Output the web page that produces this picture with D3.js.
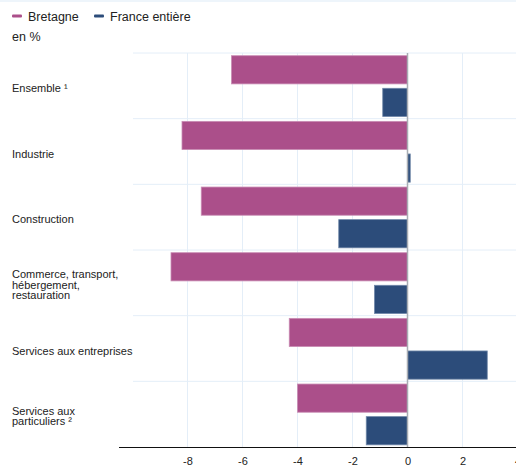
<!DOCTYPE html>
<html>
<head>
<meta charset="utf-8">
<script src="https://cdn.jsdelivr.net/npm/d3@7/dist/d3.min.js"></script>
<style>
  html, body { margin: 0; padding: 0; background: #fff; }
  svg { display: block; font-family: "Liberation Sans", Arial, sans-serif; }
</style>
</head>
<body>
<svg id="chart" width="516" height="468"></svg>
<script>
// Évolution de l'emploi salarié par secteur, en %
const categories = [
  ["Ensemble \u00b9"],
  ["Industrie"],
  ["Construction"],
  ["Commerce, transport,", "hébergement,", "restauration"],
  ["Services aux entreprises"],
  ["Services aux", "particuliers \u00b2"]
];
const bretagne = [-6.4, -8.2, -7.5, -8.6, -4.3, -4.0];
const franceEntiere = [-0.9, 0.1, -2.5, -1.2, 2.9, -1.5];
const tickValues = [-8, -6, -4, -2, 0, 2, 4];
const seriesNames = ["Bretagne", "France entière"];
const colors = ["#ab4f8a", "#2c4c7a"];
const strokes = ["#c98db4", "#6f87a8"];

const svg = d3.select("#chart");

// thin band at the top of the frame
svg.append("rect").attr("x", 0).attr("y", 0).attr("width", 516).attr("height", 2)
  .attr("fill", "#eef5fb");

const plotTop = 53, plotBottom = 447, plotLeft = 133, plotRight = 516;

const x = d3.scaleLinear().domain([-10, 4]).range([132.5, 517.5]);
const y = d3.scaleBand().domain(d3.range(categories.length)).range([plotTop, plotBottom]);

// vertical grid
svg.append("g").selectAll("line")
  .data(tickValues.filter(v => v !== 0))
  .join("line")
  .attr("x1", d => x(d)).attr("x2", d => x(d))
  .attr("y1", plotTop).attr("y2", plotBottom)
  .attr("stroke", "#e4eef8").attr("stroke-width", 1);

// horizontal band separators
svg.append("g").selectAll("line")
  .data(d3.range(categories.length))
  .join("line")
  .attr("x1", plotLeft).attr("x2", plotRight)
  .attr("y1", d => y(d)).attr("y2", d => y(d))
  .attr("stroke", "#e4eef8").attr("stroke-width", 1);

// bars
const bw = y.bandwidth();
const offsets = [2.7, 35.3];
const barH = 28.2;
[bretagne, franceEntiere].forEach((vals, s) => {
  svg.append("g").selectAll("rect")
    .data(vals)
    .join("rect")
    .attr("x", d => Math.min(x(0), x(d)))
    .attr("width", d => Math.abs(x(d) - x(0)))
    .attr("y", (d, i) => y(i) + offsets[s])
    .attr("height", barH)
    .attr("fill", colors[s])
    .attr("stroke", strokes[s])
    .attr("stroke-width", 0.8);
});

// zero line
svg.append("line")
  .attr("x1", x(0)).attr("x2", x(0))
  .attr("y1", plotTop).attr("y2", plotBottom)
  .attr("stroke", "#a9adb3").attr("stroke-width", 1.5);

// x axis
const axis = d3.axisBottom(x).tickValues(tickValues).tickSize(0).tickPadding(10)
  .tickFormat(d => String(d));
const ax = svg.append("g").attr("transform", `translate(0,${plotBottom})`).call(axis);
ax.select(".domain").remove();
ax.selectAll("text").attr("font-size", 11).attr("fill", "#222")
  .attr("font-family", "Liberation Sans, Arial, sans-serif");
svg.append("line")
  .attr("x1", 119).attr("x2", 516)
  .attr("y1", plotBottom + 0.5).attr("y2", plotBottom + 0.5)
  .attr("stroke", "#111").attr("stroke-width", 1.2);

// category labels
const lineH = 10.5;
categories.forEach((lines, i) => {
  const cy = y(i) + bw / 2 + 2;
  const t = svg.append("text")
    .attr("x", 12)
    .attr("font-size", 11)
    .attr("fill", "#222");
  lines.forEach((ln, k) => {
    t.append("tspan")
      .attr("x", 12)
      .attr("y", cy + (k - (lines.length - 1) / 2) * lineH + 4)
      .text(ln);
  });
});

// legend
const legendX = [12, 94];
seriesNames.forEach((name, s) => {
  svg.append("rect")
    .attr("x", legendX[s]).attr("y", 14.5)
    .attr("width", 10).attr("height", 3)
    .attr("rx", 1)
    .attr("fill", colors[s]);
  svg.append("text")
    .attr("x", legendX[s] + 16).attr("y", 20.5)
    .attr("font-size", 12.5).attr("fill", "#222")
    .text(name);
});

svg.append("text")
  .attr("x", 12).attr("y", 41)
  .attr("font-size", 12.5).attr("fill", "#222")
  .text("en %");
</script>
</body>
</html>
